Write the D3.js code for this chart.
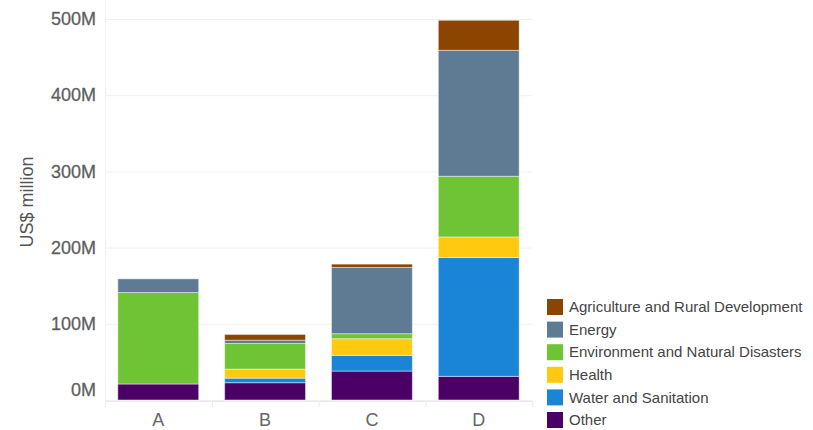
<!DOCTYPE html>
<html>
<head>
<meta charset="utf-8">
<script src="https://cdn.jsdelivr.net/npm/d3@7"></script>
<style>
  html, body { margin: 0; padding: 0; background: #fff; }
  svg { display: block; font-family: "Liberation Sans", Arial, sans-serif; }
</style>
</head>
<body>
<svg id="chart" width="813" height="430"></svg>
<script>
// Funding by sector (US$ million) for four recipients
const categories = ["A", "B", "C", "D"];
const sectors = [
  "Other",
  "Water and Sanitation",
  "Health",
  "Environment and Natural Disasters",
  "Energy",
  "Agriculture and Rural Development"
];
const other       = [21, 22.7, 38, 31];
const water       = [0, 6, 20.6, 156];
const health      = [0, 11.8, 21.8, 27];
const environment = [120, 33.7, 6.6, 79.6];
const energy      = [18, 4.3, 87, 165.3];
const agriculture = [0, 7.5, 4.3, 39.4];
const yTicks = [0, 100, 200, 300, 400, 500];
const colors = ["#4b0066", "#1a84d6", "#ffc910", "#6fc435", "#5f7b94", "#8b4500"];
const legendOrder = [
  "Agriculture and Rural Development",
  "Energy",
  "Environment and Natural Disasters",
  "Health",
  "Water and Sanitation",
  "Other"
];

const seriesValues = [other, water, health, environment, energy, agriculture];
const rows = categories.map((c, i) => {
  const r = { category: c };
  sectors.forEach((s, k) => { r[s] = seriesValues[k][i]; });
  return r;
});

const svg = d3.select("#chart");
const x = d3.scaleBand().domain(categories).range([105, 532])
  .paddingInner(0.243).paddingOuter(0.12);
const y = d3.scaleLinear().domain([0, 500]).range([400, 19]);
const color = d3.scaleOrdinal().domain(sectors).range(colors);

// horizontal grid lines
svg.append("g").selectAll("line").data(yTicks).join("line")
  .attr("x1", 105).attr("x2", 532)
  .attr("y1", d => y(d) + 0.5).attr("y2", d => y(d) + 0.5)
  .attr("stroke", "#f0f0f0");

// plot frame lines
svg.append("line").attr("x1", 105.5).attr("x2", 105.5).attr("y1", 0).attr("y2", 407)
  .attr("stroke", "#f0f0f0");
svg.append("line").attr("x1", 105).attr("x2", 532).attr("y1", 401.5).attr("y2", 401.5)
  .attr("stroke", "#eaeaea");

// category dividers on the x axis
const step = x.step();
svg.append("g").selectAll("line").data(d3.range(categories.length + 1)).join("line")
  .attr("x1", i => 105 + i * step + 0.5).attr("x2", i => 105 + i * step + 0.5)
  .attr("y1", 401).attr("y2", 407)
  .attr("stroke", "#eaeaea");

// stacked bars
const stacked = d3.stack().keys(sectors)(rows);
svg.append("g").selectAll("g").data(stacked).join("g")
  .attr("fill", d => color(d.key))
  .selectAll("rect").data(d => d).join("rect")
  .attr("x", d => x(d.data.category))
  .attr("width", x.bandwidth())
  .attr("y", d => y(d[1]))
  .attr("height", d => Math.max(0, y(d[0]) - y(d[1])))
  .attr("stroke", "#ffffff").attr("stroke-opacity", 0.45).attr("stroke-width", 1);

// y axis
const yAxis = svg.append("g").attr("transform", "translate(96,0)")
  .call(d3.axisLeft(y).tickValues(yTicks).tickFormat(d => d + "M").tickSize(0).tickPadding(0));
yAxis.select(".domain").remove();
yAxis.selectAll("text").attr("fill", "#5f5f5f").attr("font-size", 18)
  .attr("font-family", "Liberation Sans, Arial, sans-serif")
  .attr("stroke", "#5f5f5f").attr("stroke-width", 0.3);
// lowest label sits just above the baseline
yAxis.selectAll(".tick").filter(d => d === 0).select("text").attr("y", -10);

// x axis
const xAxis = svg.append("g").attr("transform", "translate(0,410)")
  .call(d3.axisBottom(x).tickSize(0).tickPadding(3));
xAxis.select(".domain").remove();
xAxis.selectAll("text").attr("fill", "#666").attr("font-size", 18)
  .attr("font-family", "Liberation Sans, Arial, sans-serif");

// y axis title
svg.append("text")
  .attr("transform", "translate(33,202) rotate(-90)")
  .attr("text-anchor", "middle")
  .attr("fill", "#555").attr("font-size", 18)
  .text("US$ million");

// legend
const legend = svg.append("g").selectAll("g").data(legendOrder).join("g")
  .attr("transform", (d, i) => `translate(547,${299 + i * 22.6})`);
legend.append("rect").attr("width", 16).attr("height", 16)
  .attr("fill", d => color(d));
legend.append("text").attr("x", 22).attr("y", 8).attr("dy", "0.35em")
  .attr("fill", "#444").attr("font-size", 15)
  .text(d => d);
</script>
</body>
</html>
